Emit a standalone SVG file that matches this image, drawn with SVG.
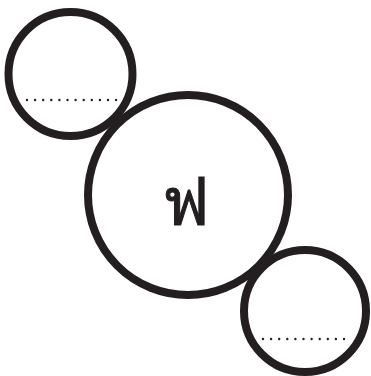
<svg xmlns="http://www.w3.org/2000/svg" width="371" height="376" viewBox="0 0 371 376">
<style>
.c{fill:#fff;stroke:#231f20;stroke-width:8}
.d{stroke:#231f20;stroke-width:2.4;stroke-linecap:round;stroke-dasharray:0 8.1;fill:none}
.t{font-family:"DejaVu Sans","Noto Sans",sans-serif;font-size:67px;fill:#231f20;stroke:#231f20;stroke-width:1}
</style>
<g id="node-top"><circle class="c" cx="70.5" cy="74" r="62"/><line class="d" x1="27" y1="100" x2="117" y2="100"/></g>
<g id="node-center"><circle class="c" cx="188" cy="195" r="100"/><text class="t" x="185" y="225" text-anchor="middle">ฟ</text></g>
<g id="node-bottom"><circle class="c" cx="305" cy="311" r="61"/><line class="d" x1="263" y1="339" x2="352" y2="339"/></g>
</svg>
